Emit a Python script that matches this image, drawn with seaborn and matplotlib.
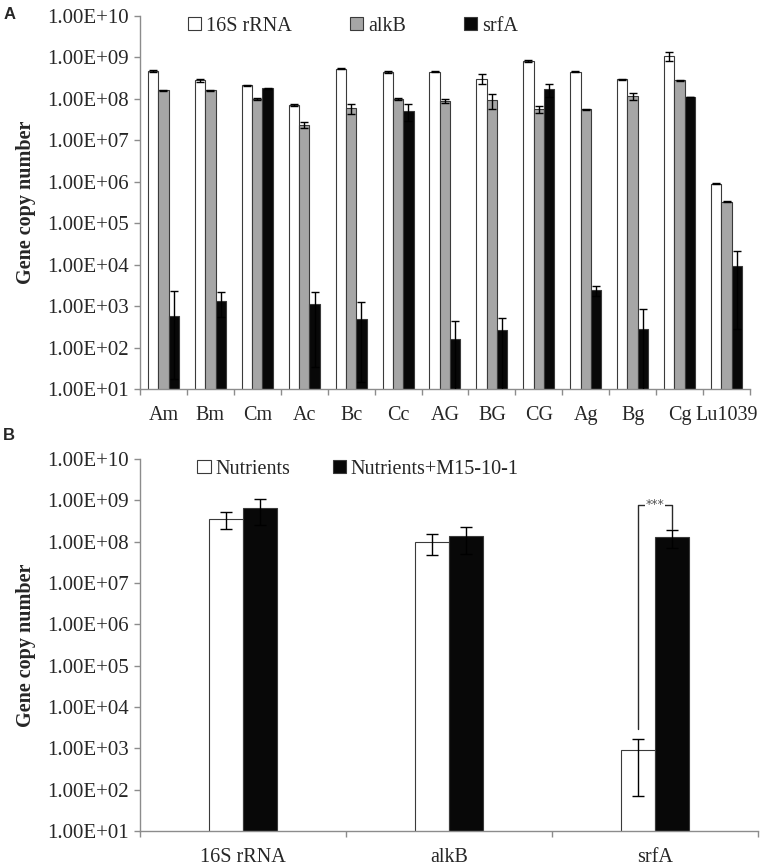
import numpy as np
import pandas as pd
import matplotlib
matplotlib.use('Agg')
import matplotlib.pyplot as plt
import seaborn as sn
from matplotlib.ticker import FixedLocator, FixedFormatter, FuncFormatter, NullFormatter

# %% data - panel A
samples = ['Am', 'Bm', 'Cm', 'Ac', 'Bc', 'Cc', 'AG', 'BG', 'CG', 'Ag', 'Bg', 'Cg', 'Lu1039']
genes = ['16S rRNA', 'alkB', 'srfA']

a_16s = [4.8e8, 2.8e8, 2.15e8, 7.2e7, 5.3e8, 4.4e8, 4.5e8, 3.1e8, 8.1e8, 4.5e8, 2.95e8, 1.07e9, 8.9e5]
a_alkb = [1.6e8, 1.6e8, 1.0e8, 2.4e7, 5.9e7, 1.0e8, 8.9e7, 9.3e7, 5.6e7, 5.6e7, 1.17e8, 2.8e8, 3.3e5]
a_srfa = [580, 1350, 1.8e8, 1130, 500, 5.2e7, 163, 265, 1.7e8, 2400, 280, 1.12e8, 9500]

a_16s_err = [2.5e7, 1.8e7, 6e6, 3e6, 1.2e7, 2e7, 1.2e7, 8e7, 3.5e7, 1.5e7, 6e6, 2.5e8, 2e4]
a_alkb_err = [6e6, 6e6, 5e6, 4e6, 1.5e7, 4e6, 8e6, 3.5e7, 1e7, 1e6, 2.3e7, 5e6, 1e4]
a_srfa_err = [1700, 800, 3e6, 1100, 790, 2.2e7, 280, 265, 6e7, 600, 550, 2e6, 1.15e4]

# %% data - panel B
genes_b = ['16S rRNA', 'alkB', 'srfA']
treatments = ['Nutrients', 'Nutrients+M15-10-1']
b_nutr = [3.6e8, 1.0e8, 890]
b_nutr_m = [6.5e8, 1.4e8, 1.3e8]
b_nutr_err = [1.55e8, 5.2e7, 820]
b_nutr_m_err = [4.0e8, 9e7, 6e7]

# bracket for significance (srfA)
sig_low_left = 2950
sig_top = 7.8e8
sig_low_right = 2.0e8

# %%
df_a = pd.DataFrame({
    'sample': samples * 3,
    'gene': [g for g in genes for _ in samples],
    'copies': a_16s + a_alkb + a_srfa,
    'err': a_16s_err + a_alkb_err + a_srfa_err,
})
df_b = pd.DataFrame({
    'gene': genes_b * 2,
    'treat': [t for t in treatments for _ in genes_b],
    'copies': b_nutr + b_nutr_m,
    'err': b_nutr_err + b_nutr_m_err,
})

sn.set_style('white')
plt.rcParams['font.family'] = ['Liberation Serif', 'DejaVu Serif']

fig = plt.figure(figsize=(7.75, 8.65), dpi=100)
ax_a = fig.add_axes([0.1806, 0.5503, 0.7871, 0.4312])
ax_b = fig.add_axes([0.1806, 0.0393, 0.7974, 0.4301])

grey_axis = '#8c8c8c'
edge = '#3a3a3a'


def style_axis(ax, labels):
    n = len(labels)
    ax.set_yscale('log')
    ax.set_ylim(10, 1e10)
    ax.set_xlim(-0.5, n - 0.5)
    ax.yaxis.set_major_locator(FixedLocator([10.0 ** k for k in range(1, 11)]))
    ax.yaxis.set_minor_locator(FixedLocator([]))
    ax.yaxis.set_major_formatter(FuncFormatter(lambda v, p: f'{v:.2E}'))
    ax.xaxis.set_major_locator(FixedLocator(np.arange(n + 1) - 0.5))
    ax.xaxis.set_major_formatter(NullFormatter())
    ax.xaxis.set_minor_locator(FixedLocator(np.arange(n)))
    ax.xaxis.set_minor_formatter(FixedFormatter(labels))
    for s in ['top', 'right']:
        ax.spines[s].set_visible(False)
    for s in ['left', 'bottom']:
        ax.spines[s].set_color(grey_axis)
        ax.spines[s].set_linewidth(1.0)
    ax.tick_params(axis='y', which='major', length=4, width=1, color=grey_axis,
                   labelsize=15, pad=4, direction='out', left=True)
    ax.tick_params(axis='x', which='major', length=4, width=1, color=grey_axis,
                   direction='out', bottom=True)
    ax.tick_params(axis='x', which='minor', length=0, labelsize=14.5, pad=12)
    ax.set_xlabel('')
    ax.set_ylabel('Gene copy number', fontsize=14.5, fontweight='bold', labelpad=8)


def add_errors(ax, data, hue_col, hue_levels, cap):
    for cont, level in zip(ax.containers, hue_levels):
        sub = data[data[hue_col] == level]
        vals = sub['copies'].values
        errs = sub['err'].values
        lower = np.minimum(errs, vals * 0.97)
        xs = [b.get_x() + b.get_width() / 2 for b in cont]
        ax.errorbar(xs, vals, yerr=[lower, errs], fmt='none', ecolor='#000000',
                    elinewidth=1.0, capsize=cap, capthick=1.0, zorder=3)


# %% panel A
ax_a.set_yscale('log')
sn.barplot(data=df_a, x='sample', y='copies', hue='gene', order=samples, hue_order=genes,
           palette=['white', '#a6a6a6', '#080808'], edgecolor=edge, linewidth=0.8,
           width=0.66, gap=0, errorbar=None, ax=ax_a)
add_errors(ax_a, df_a, 'gene', genes, 3.2)
style_axis(ax_a, samples)
ax_a.legend(loc='upper left', bbox_to_anchor=(0.065, 1.02), ncol=3, frameon=False,
            fontsize=14.5, handlelength=0.65, handleheight=0.65, handletextpad=0.25,
            columnspacing=2.9, borderaxespad=0)

# %% panel B
ax_b.set_yscale('log')
sn.barplot(data=df_b, x='gene', y='copies', hue='treat', order=genes_b, hue_order=treatments,
           palette=['white', '#080808'], edgecolor=edge, linewidth=0.8,
           width=0.33, gap=0, errorbar=None, ax=ax_b)
add_errors(ax_b, df_b, 'treat', treatments, 4)
style_axis(ax_b, genes_b)
ax_b.legend(loc='upper left', bbox_to_anchor=(0.08, 1.02), ncol=2, frameon=False,
            fontsize=14.5, handlelength=0.65, handleheight=0.65, handletextpad=0.25,
            columnspacing=2.1, borderaxespad=0)

# significance bracket over srfA
bl = ax_b.containers[0][2]
br = ax_b.containers[1][2]
xl = bl.get_x() + bl.get_width() / 2
xr = br.get_x() + br.get_width() / 2
ax_b.plot([xl, xl, xr, xr], [sig_low_left, sig_top, sig_top, sig_low_right],
          color='#2a2a2a', lw=1.0, zorder=4)
ax_b.text((xl + xr) / 2, sig_top, '***', ha='center', va='center', fontsize=9,
          color='#555555', family='DejaVu Sans',
          bbox=dict(facecolor='white', edgecolor='none', pad=0.5), zorder=5)

fig.text(0.004, 0.992, 'A', fontsize=12, fontweight='bold', family='Liberation Sans',
         va='top', ha='left')
fig.text(0.004, 0.505, 'B', fontsize=12, fontweight='bold', family='Liberation Sans',
         va='top', ha='left')

plt.savefig('out.png', dpi=100)
